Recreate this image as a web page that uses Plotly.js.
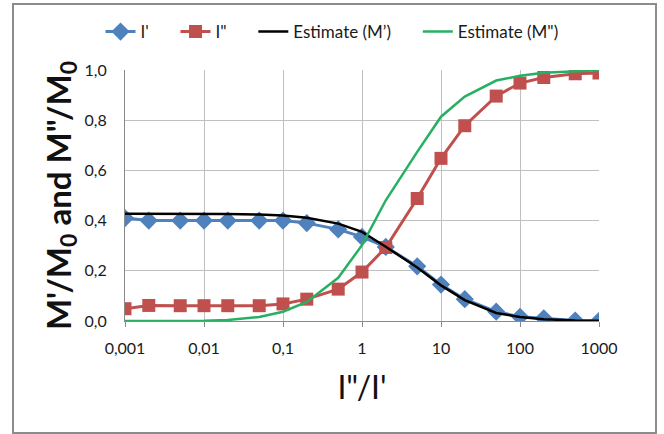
<!DOCTYPE html>
<html>
<head>
<meta charset="utf-8">
<script src="https://cdn.plot.ly/plotly-3.0.1.min.js"></script>
<style>
  html, body { margin: 0; padding: 0; background: #ffffff; }
  #wrap { position: relative; width: 664px; height: 434px; }
  #chart { position: absolute; left: 0; top: 0; width: 664px; height: 434px; }
  #frame { position: absolute; left: 12px; top: 3px; width: 641px; height: 427px;
           border: 2px solid #8c8c8c; pointer-events: none; }
</style>
</head>
<body>
<div id="wrap">
  <div id="chart"></div>
  <div id="frame"></div>
</div>
<script>
// Ratio I''/I'
var ratio = [0.001, 0.002, 0.005, 0.01, 0.02, 0.05, 0.1, 0.2, 0.5, 1, 2, 5, 10, 20, 50, 100, 200, 500, 1000];
// Measured M'/M0  (I')
var mPrime = [0.41, 0.40, 0.40, 0.40, 0.40, 0.40, 0.40, 0.39, 0.365, 0.335, 0.295, 0.218, 0.145, 0.087, 0.037, 0.017, 0.011, 0.002, 0.001];
// Measured M''/M0 (I'')
var mDouble = [0.049, 0.062, 0.061, 0.061, 0.061, 0.061, 0.068, 0.087, 0.127, 0.195, 0.293, 0.488, 0.648, 0.778, 0.896, 0.948, 0.97, 0.985, 0.988];
// Estimate (M')
var estPrime = [0.427, 0.427, 0.427, 0.427, 0.426, 0.424, 0.42, 0.411, 0.388, 0.355, 0.296, 0.213, 0.142, 0.083, 0.032, 0.016, 0.007, 0.002, 0.001];
// Estimate (M'')
var estDouble = [0.0, 0.0, 0.0, 0.001, 0.004, 0.016, 0.037, 0.076, 0.172, 0.302, 0.481, 0.674, 0.814, 0.894, 0.958, 0.977, 0.989, 0.995, 0.999];

var seriesNames = ["I'", 'I"', "Estimate (M\u2019)", 'Estimate (M")'];
var xTickVals = [0.001, 0.01, 0.1, 1, 10, 100, 1000];
var xTickText = ['0,001', '0,01', '0,1', '1', '10', '100', '1000'];
var yTickVals = [0, 0.2, 0.4, 0.6, 0.8, 1.0];
var yTickText = ['0,0', '0,2', '0,4', '0,6', '0,8', '1,0'];

var FONT = 'Lato, "Open Sans", "Liberation Sans", sans-serif';
var PAD = '\u00a0\u00a0\u00a0\u00a0\u00a0';

var traces = [
  { x: ratio, y: mPrime, name: seriesNames[0] + PAD, type: 'scatter', mode: 'lines+markers',
    line: { color: '#4F81BD', width: 3 },
    marker: { symbol: 'diamond', size: 14, color: '#4F81BD' } },
  { x: ratio, y: mDouble, name: seriesNames[1] + PAD, type: 'scatter', mode: 'lines+markers',
    line: { color: '#C0504D', width: 3 },
    marker: { symbol: 'square', size: 13, color: '#C0504D' } },
  { x: ratio, y: estPrime, name: seriesNames[2] + PAD, type: 'scatter', mode: 'lines',
    line: { color: '#000000', width: 2.5 } },
  { x: ratio, y: estDouble, name: seriesNames[3], type: 'scatter', mode: 'lines',
    line: { color: '#27B063', width: 2.5 } }
];

var layout = {
  width: 664, height: 434,
  margin: { l: 125, r: 65, t: 70, b: 113 },
  paper_bgcolor: '#ffffff', plot_bgcolor: '#ffffff',
  font: { family: FONT, size: 15, color: '#1a1a1a' },
  showlegend: true,
  legend: {
    orientation: 'h', xref: 'container', yref: 'container',
    x: 0.5, xanchor: 'center', y: 1 - 32 / 434, yanchor: 'middle',
    font: { family: FONT, size: 17, color: '#1a1a1a' },
    bgcolor: 'rgba(0,0,0,0)', traceorder: 'normal'
  },
  xaxis: {
    type: 'log', range: [-3, 3],
    tickmode: 'array', tickvals: xTickVals, ticktext: xTickText,
    showgrid: true, gridcolor: '#c0c0c0', gridwidth: 1,
    showline: true, linecolor: '#8a8a8a', linewidth: 1, mirror: false,
    ticks: 'outside', ticklen: 5, tickcolor: '#8a8a8a',
    ticklabelstandoff: 8,
    tickfont: { family: FONT, size: 16, color: '#1a1a1a' },
    zeroline: false,
    title: { text: 'I"/I\'', font: { family: FONT, size: 32, color: '#111111' }, standoff: 20 },
    automargin: false
  },
  yaxis: {
    range: [0, 1.0],
    tickmode: 'array', tickvals: yTickVals, ticktext: yTickText,
    showgrid: true, gridcolor: '#c0c0c0', gridwidth: 1,
    showline: true, linecolor: '#8a8a8a', linewidth: 1,
    ticks: '', ticklabelstandoff: 14,
    tickfont: { family: FONT, size: 16, color: '#1a1a1a' },
    zeroline: false,
    title: { text: '<b>M\'/M<sub>0</sub> and M"/M<sub>0</sub></b>', font: { family: FONT, size: 33, color: '#111111' }, standoff: 3 },
    automargin: false
  }
};

Plotly.newPlot('chart', traces, layout, { displayModeBar: false, staticPlot: true });
</script>
</body>
</html>
